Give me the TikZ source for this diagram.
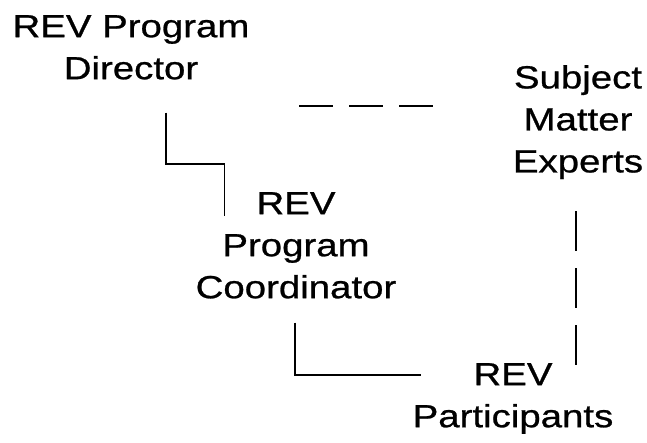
\documentclass[tikz,border=0pt]{standalone}
\usepackage{fontspec}
\setmainfont{Liberation Sans}[FakeStretch=1.2,FakeBold=0.8]
\usepackage{pgf,tikz}
\usetikzlibrary{arrows, shapes}
\usetikzlibrary{calc}
\usetikzlibrary{positioning}

\begin{document}
\begin{tikzpicture}[line cap=butt,line join=miter,x=1pt,y=-1pt]
  \tikzset{
  % style for the role names
  role/.style={
    align=center, inner sep=0pt, anchor=north,
    font=\fontsize{32}{42}\selectfont
  },
  % solid reporting line
  link/.style={line width=1.8pt},
  % dashed lines to the experts
  dashlink/.style={line width=1.8pt, dash pattern=on #1},
}
\useasboundingbox (0,0) rectangle (647,443);

\node[role] (dir) at (131,15) {REV Program\\Director};
\node[role] (coord) at (296,192) {REV\\Program\\Coordinator};
\node[role] (sme) at (578,65) {Subject\\Matter\\Experts};
\node[role] (part) at (513,363) {REV\\Participants};

\draw[link] ([xshift=35pt,yshift=-33pt]dir.south) -- ++(0,51) -| ([xshift=29pt,yshift=-24pt]coord.north west);
\draw[link] ([xshift=-1pt,yshift=-24pt]coord.south) |- ([xshift=9pt,yshift=-12pt]part.north west);
\draw[dashlink={34pt off 16pt}] ([xshift=-80pt,yshift=-41pt]sme.north west) -- ++(-137,0);
%\draw[dashlink={34pt off 16pt}] (dir.east) -- (sme.west);
\draw[dashlink={40pt off 17pt}] ([xshift=-2pt,yshift=-32pt]sme.south) -- ++(0,156);
\end{tikzpicture}
\end{document}
